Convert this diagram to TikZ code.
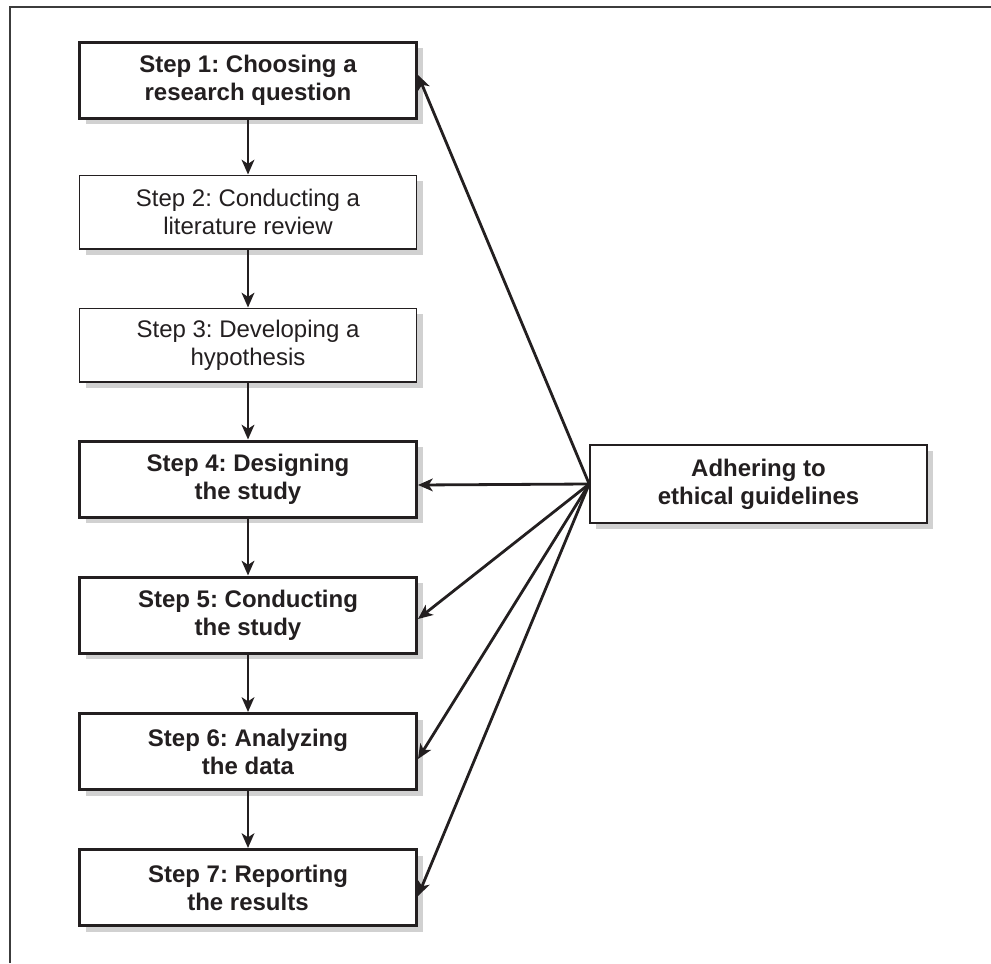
\documentclass[tikz,border=0pt]{standalone}
\usepackage{fontspec}
\setmainfont{Liberation Sans}
\usetikzlibrary{arrows.meta,shadows,calc}
\definecolor{ink}{RGB}{35,31,32}
\definecolor{shade}{RGB}{209,209,209}
\definecolor{framecol}{RGB}{60,60,60}
\frenchspacing
\begin{document}
\begin{tikzpicture}[x=0.75pt,y=-0.75pt,
  base/.style={rectangle, draw=ink, fill=white, text=ink, align=center,
    inner sep=0pt, minimum width=252.75pt,
    general shadow={fill=shade, shadow xshift=4.5pt, shadow yshift=-4.5pt},
    font=\fontsize{18}{21}\selectfont},
  boldbox/.style={base, line width=2.25pt, minimum height=57pt,
    font=\fontsize{18}{21}\selectfont\bfseries},
  plainbox/.style={base, line width=1.25pt, minimum height=55pt},
  ethbox/.style={base, line width=1.25pt, minimum height=58.5pt,
    font=\fontsize{18}{21}\selectfont\bfseries},
  arr/.style={draw=ink, line width=2.1pt,
    -{Stealth[length=11pt,width=9.5pt,inset=3pt]}},
  framestyle/.style={draw=framecol, line width=1.5pt}
]
\useasboundingbox (0,0) rectangle (991,963);

% frame (top and left edges visible)
\coordinate (fbl) at (10,963);
\coordinate (ftl) at (10,7);
\coordinate (ftr) at (991,7);
\draw[framestyle] (fbl) -- (ftl) -- (ftr);

% step boxes
\node[boldbox]  (s1) at (248,80.5)  {Step 1: Choosing a\\research question};
\node[plainbox] (s2) at (248,212)   {Step 2: Conducting a\\literature review};
\node[plainbox] (s3) at (248,345)   {Step 3: Developing a\\hypothesis};
\node[boldbox]  (s4) at (248,479)   {Step 4: Designing\\the study};
\node[boldbox]  (s5) at (248,615)   {Step 5: Conducting\\the study};
\node[boldbox]  (s6) at (248,751.5) {Step 6: Analyzing\\the data};
\node[boldbox]  (s7) at (248,887.5) {Step 7: Reporting\\the results};

% ethics box
\node[ethbox] (eth) at (758.5,484) {Adhering to\\ethical guidelines};

% vertical chain
\draw[arr] (s1.south) -- (s2.north);
\draw[arr] (s2.south) -- (s3.north);
\draw[arr] (s3.south) -- (s4.north);
\draw[arr] (s4.south) -- (s5.north);
\draw[arr] (s5.south) -- (s6.north);
\draw[arr] (s6.south) -- (s7.north);

% ethics arrows
\draw[arr] (eth.west) -- ($(s1.east)+(0,-5.5)$);
\draw[arr] (eth.west) -- ($(s4.east)+(0,6)$);
\draw[arr] (eth.west) -- ($(s5.east)+(0,4)$);
\draw[arr] (eth.west) -- ($(s6.east)+(0,7.5)$);
\draw[arr] (eth.west) -- ($(s7.east)+(0,8.5)$);
\end{tikzpicture}
\end{document}
